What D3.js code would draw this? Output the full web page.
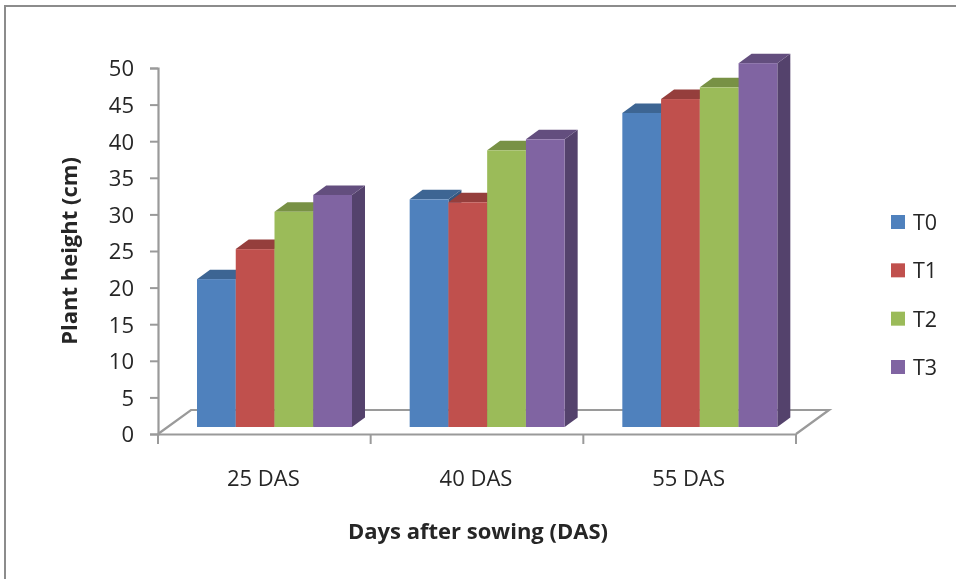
<!DOCTYPE html>
<html><head><meta charset="utf-8">
<script src="https://cdn.jsdelivr.net/npm/d3@7/dist/d3.min.js"></script>
<style>html,body{margin:0;padding:0;background:#fff;overflow:hidden}svg{display:block}text{font-family:"Open Sans",sans-serif;fill:#262626}</style>
</head><body><div id="chart"></div>
<script>
const categories = ["25 DAS","40 DAS","55 DAS"];
const seriesNames = ["T0","T1","T2","T3"];
const T0 = [20.2,31.1,42.9];
const T1 = [24.3,30.7,44.8];
const T2 = [29.4,37.8,46.4];
const T3 = [31.7,39.3,49.7];
const seriesValues = [T0,T1,T2,T3];
const yTicks = [0,5,10,15,20,25,30,35,40,45,50];
const frontColors = ["#4f81bd","#c0504d","#9bbb59","#8064a2"];
const topColors = ["#3d6593","#953e3c","#789145","#634e7e"];
const sideColors = ["#35577f","#803533","#677d3b","#54426c"];

const W=956,H=579;
const svg=d3.select("#chart").append("svg").attr("width",W).attr("height",H);
const root=svg.append("g").style("filter","blur(0.45px)");

// page frame
root.append("path").attr("d",`M5,${H}V6H${W}`).attr("fill","none").attr("stroke","#8c8c8c").attr("stroke-width",2);

const x=d3.scaleBand().domain(categories).range([158,796]);
const xInner=d3.scaleBand().domain(seriesNames).range([39,194]);
const yAxis=d3.scaleLinear().domain([0,50]).range([434,68]);
const yBar=d3.scaleLinear().domain([0,50]).range([427,61]);
const dx=13,dy=9.5,fx=33,fy=24;

// floor
const axisColor="#9a9a9a";
root.append("path").attr("fill","none").attr("stroke",axisColor).attr("stroke-width",2.2)
  .attr("d",`M158,434L${158+fx},${434-fy}H${796+fx}L796,434`);

// axes
const gy=root.append("g").attr("transform","translate(158,0)")
  .call(d3.axisLeft(yAxis).tickValues(yTicks).tickSize(8).tickPadding(16));
gy.selectAll("text").style("font-size","22px").attr("dy","0.36em");
const gx=root.append("g").attr("transform","translate(0,434)")
  .call(d3.axisBottom(x).tickValues([]).tickSize(0));
gx.selectAll(".tick").remove();
[...categories.map(c=>x(c)),796].forEach(p=>gx.append("line").attr("x1",p).attr("x2",p).attr("y1",0).attr("y2",10).attr("stroke",axisColor).attr("stroke-width",2));
root.selectAll(".domain").attr("stroke",axisColor).attr("stroke-width",2.2);
gy.selectAll("line").attr("stroke",axisColor).attr("stroke-width",2);
root.append("g").selectAll("text").data(categories).join("text")
  .attr("x",c=>x(c)+x.bandwidth()/2-1).attr("y",486).attr("text-anchor","middle").style("font-size","22px").text(c=>c);

// bars
categories.forEach((c,ci)=>{
  const g=root.append("g").attr("transform",`translate(${x(c)},0)`);
  seriesNames.forEach((s,si)=>{
    const x0=xInner(s),w=xInner.bandwidth(),yt=yBar(seriesValues[si][ci]),yb=yBar(0);
    g.append("path").attr("fill",sideColors[si]).attr("d",`M${x0+w},${yt}l${dx},${-dy}V${yb-dy}L${x0+w},${yb}Z`);
    g.append("path").attr("fill",topColors[si]).attr("d",`M${x0},${yt}l${dx},${-dy}h${w}l${-dx},${dy}Z`);
    g.append("rect").attr("x",x0).attr("y",yt).attr("width",w).attr("height",yb-yt).attr("fill",frontColors[si]);
  });
});

// titles
root.append("text").attr("x",478).attr("y",539).attr("text-anchor","middle").style("font-size","22px").style("font-weight","700").text("Days after sowing (DAS)");
root.append("text").attr("transform","translate(77,251) rotate(-90)").attr("text-anchor","middle").style("font-size","22px").style("font-weight","700").text("Plant height (cm)");

// legend
const ly=d3.scalePoint().domain(seriesNames).range([222,367]);
const lg=root.append("g").selectAll("g").data(seriesNames).join("g").attr("transform",s=>`translate(891,${ly(s)})`);
lg.append("rect").attr("x",0).attr("y",-7).attr("width",14).attr("height",14).attr("fill",(s,i)=>frontColors[i]);
lg.append("text").attr("x",22).attr("y",8).style("font-size","21.5px").text(s=>s);
</script></body></html>
